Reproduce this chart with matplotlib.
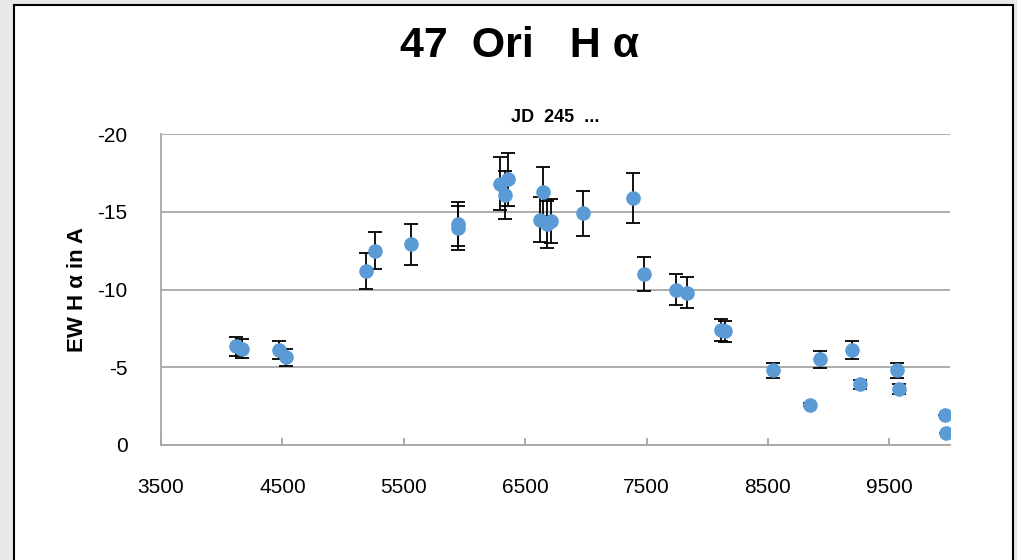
import matplotlib
matplotlib.use("Agg")
import matplotlib.pyplot as plt
from matplotlib.patches import Rectangle

# ---- data ----
jd = [4120, 4165, 4475, 4530, 5190, 5260, 5560, 5945, 5950, 6290, 6330, 6355,
      6620, 6650, 6680, 6710, 6980, 7385, 7475, 7745, 7830, 8115, 8150, 8540,
      8850, 8930, 9190, 9260, 9565, 9580, 9960, 9970]
ew = [-6.35, -6.2, -6.1, -5.65, -11.2, -12.5, -12.9, -14.2, -13.95, -16.8, -16.1, -17.1,
      -14.5, -16.3, -14.2, -14.4, -14.9, -15.9, -11.0, -10.0, -9.8, -7.4, -7.3, -4.8,
      -2.6, -5.5, -6.1, -3.9, -4.8, -3.6, -1.9, -0.8]
err = [0.6, 0.6, 0.6, 0.55, 1.15, 1.2, 1.3, 1.4, 1.4, 1.7, 1.55, 1.7,
       1.45, 1.6, 1.5, 1.4, 1.45, 1.6, 1.1, 1.0, 1.0, 0.7, 0.7, 0.5,
       0.1, 0.55, 0.6, 0.3, 0.5, 0.3, 0.0, 0.0]
x_ticks = [3500, 4500, 5500, 6500, 7500, 8500, 9500]
y_ticks = [0, -5, -10, -15, -20]

FAM = ['Liberation Sans Narrow', 'Liberation Sans', 'DejaVu Sans']
plt.rcParams['font.family'] = FAM

W, H = 1017, 560
fig = plt.figure(figsize=(W / 100, H / 100), dpi=100)
fig.patch.set_facecolor('#e8e8e8')

# white chart area with black frame
frame = Rectangle((14 / W, -0.01), (1013 - 14) / W, 1 - 5 / H + 0.01,
                  transform=fig.transFigure, facecolor='white',
                  edgecolor='black', linewidth=1.5, zorder=-5)
fig.patches.append(frame)

ax = fig.add_axes([161 / W, 1 - 445 / H, (950 - 161) / W, (445 - 134) / H])
ax.set_zorder(2)
ax.patch.set_alpha(0)
ax.set_xlim(3500, 10000)
ax.set_ylim(0, -20)

gray = '#a6a6a6'
ax.set_xticks(x_ticks)
ax.set_yticks(y_ticks)
ax.set_yticklabels([str(v) for v in y_ticks])
ax.grid(axis='y', color=gray, linewidth=1.3)
ax.set_axisbelow(True)
for s in ['top', 'right']:
    ax.spines[s].set_visible(False)
for s in ['left', 'bottom']:
    ax.spines[s].set_color(gray)
    ax.spines[s].set_linewidth(1.3)
ax.tick_params(axis='x', direction='in', length=5, width=1.3, color=gray,
               pad=24, labelsize=15)
ax.tick_params(axis='y', length=0, pad=24, labelsize=15)

ax.errorbar(jd, ew, yerr=err, fmt='none', ecolor='black', elinewidth=1.3,
            capsize=5, capthick=1.3, zorder=3)
ax.plot(jd, ew, 'o', color='#5b9bd5', markersize=10.5, markeredgewidth=0,
        zorder=4)

ax.set_ylabel('EW H α in A', fontsize=16, fontweight='bold')
ax.yaxis.set_label_coords(-(161 - 88) / (950 - 161), 0.5)

fig.text(520 / W, 1 - 46 / H, '47  Ori   H α', ha='center', va='center',
         fontsize=31, fontweight='bold')
fig.text(555 / W, 1 - 117 / H, 'JD  245  ...', ha='center', va='center',
         fontsize=13, fontweight='bold')

fig.savefig('out.png', dpi=100, facecolor=fig.get_facecolor())
